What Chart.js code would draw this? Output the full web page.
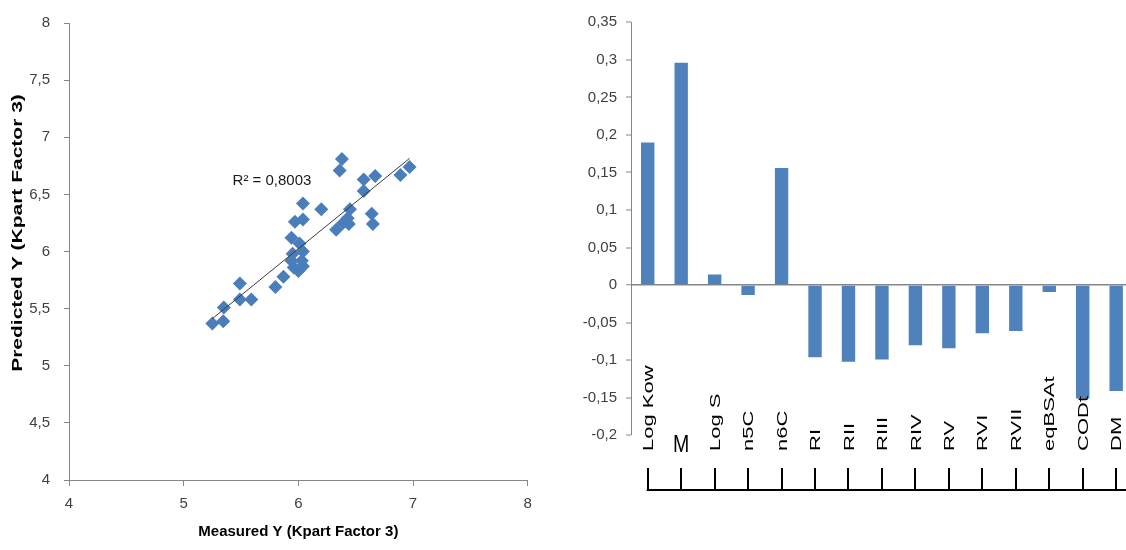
<!DOCTYPE html>
<html>
<head>
<meta charset="utf-8">
<script src="https://cdn.jsdelivr.net/npm/chart.js@4/dist/chart.umd.min.js"></script>
<style>
  html, body { margin: 0; padding: 0; background: #fff; width: 1126px; height: 550px; overflow: hidden; }
  #scatter { position: absolute; left: 0; top: 0; }
  #bars { position: absolute; left: 560px; top: 0; }
</style>
</head>
<body>
<canvas id="scatter" width="560" height="550"></canvas>
<canvas id="bars" width="600" height="550"></canvas>
<script>
// ---- Left panel: measured vs predicted (Kpart, factor 3) ----
const measuredY  = [5.25, 5.345, 5.35, 5.49, 5.49, 5.59, 5.80, 5.87, 5.94, 5.95, 5.94, 5.97,
                    6.01, 6.03, 6.00, 5.96, 6.04, 6.04, 6.04, 6.04, 6.20, 6.33, 6.36, 6.38,
                    6.39, 6.44, 6.45, 6.43, 6.57, 6.57, 6.64, 6.65, 6.67, 6.89, 6.97];
const predictedY = [5.37, 5.39, 5.51, 5.72, 5.58, 5.58, 5.69, 5.78, 5.92, 5.98, 6.12, 6.26,
                    6.07, 5.92, 5.83, 5.86, 6.00, 5.87, 6.28, 6.42, 6.37, 6.19, 6.71, 6.81,
                    6.25, 6.24, 6.37, 6.29, 6.53, 6.63, 6.33, 6.24, 6.66, 6.67, 6.74];
const measuredTicks  = [4, 5, 6, 7, 8];
const predictedTicks = [4, 4.5, 5, 5.5, 6, 6.5, 7, 7.5, 8];
const r2Label = 'R² = 0,8003';

// ---- Right panel: descriptor coefficients ----
const descriptors  = ['Log Kow', 'M', 'Log S', 'n5C', 'n6C', 'RI', 'RII', 'RIII', 'RIV', 'RV',
                      'RVI', 'RVII', 'eqBSAt', 'CODt', 'DM'];
const coefficients = [0.190, 0.296, 0.014, -0.013, 0.156, -0.096, -0.102, -0.099, -0.080, -0.084,
                      -0.064, -0.061, -0.009, -0.151, -0.141];
const coefTicks    = [-0.2, -0.15, -0.1, -0.05, 0, 0.05, 0.1, 0.15, 0.2, 0.25, 0.3, 0.35];
const uprightLabels = ['M'];

const AXIS_GREY = '#868686';
const TICK_TEXT = '#404040';
const BAR_BLUE  = '#4F81BD';

const comma = v => String(v).replace('.', ',');
const setTicks = values => scale => { scale.ticks = values.map(v => ({ value: v })); };

// least-squares line through the scatter
function fitLine(xs, ys) {
  const n = xs.length;
  const mx = xs.reduce((a, b) => a + b, 0) / n;
  const my = ys.reduce((a, b) => a + b, 0) / n;
  let sxx = 0, sxy = 0;
  for (let i = 0; i < n; i++) { sxx += (xs[i] - mx) ** 2; sxy += (xs[i] - mx) * (ys[i] - my); }
  const slope = sxy / sxx;
  return x => my + slope * (x - mx);
}
const trend = fitLine(measuredY, predictedY);
const xLo = Math.min(...measuredY), xHi = Math.max(...measuredY);

// squeezed text helper (narrow glyph thickness)
function squeezedText(ctx, text, x, y, font, rotate, sx, sy, align, baseline) {
  ctx.save();
  ctx.translate(x, y);
  if (rotate) ctx.rotate(-Math.PI / 2);
  ctx.scale(sx, sy);
  ctx.font = font;
  ctx.textAlign = align;
  ctx.textBaseline = baseline;
  ctx.fillText(text, 0, 0);
  ctx.restore();
}

const scatterText = {
  id: 'scatterText',
  afterDraw(chart) {
    const { ctx, scales: { x, y } } = chart;
    ctx.save();
    ctx.fillStyle = '#000';
    squeezedText(ctx, 'Predicted Y (Kpart Factor 3)', 18, 233,
                 'bold 21px "Liberation Sans"', true, 1, 0.67, 'center', 'middle');
    ctx.fillStyle = '#1a1a1a';
    squeezedText(ctx, r2Label, x.getPixelForValue(5.77), y.getPixelForValue(6.62),
                 '15px "Liberation Sans"', false, 1, 1, 'center', 'middle');
    ctx.restore();
  }
};

new Chart(document.getElementById('scatter'), {
  type: 'scatter',
  data: {
    datasets: [
      {
        type: 'line',
        order: 0,
        data: [{ x: xLo, y: trend(xLo) }, { x: xHi, y: trend(xHi) }],
        borderColor: '#3a3a3a',
        borderWidth: 1,
        pointRadius: 0,
        fill: false
      },
      {
        order: 1,
        data: measuredY.map((m, i) => ({ x: m, y: predictedY[i] })),
        pointStyle: 'rectRot',
        pointRadius: 7,
        pointHoverRadius: 7,
        backgroundColor: '#4A7EBB',
        borderWidth: 0
      }
    ]
  },
  options: {
    responsive: false,
    animation: false,
    devicePixelRatio: 1,
    layout: { padding: { left: 0, top: 22.7, right: 32.3, bottom: 0 } },
    plugins: { legend: { display: false }, tooltip: { enabled: false } },
    scales: {
      x: {
        type: 'linear', min: 4, max: 8,
        afterBuildTicks: setTicks(measuredTicks),
        afterFit: s => { s.height = 70; },
        grid: { drawOnChartArea: false, tickLength: 6, color: AXIS_GREY },
        border: { color: AXIS_GREY },
        ticks: { color: TICK_TEXT, font: { family: '"Liberation Sans"', size: 15 }, padding: 9,
                 callback: v => comma(v) },
        title: { display: true, text: 'Measured Y (Kpart Factor 3)', color: '#000',
                 font: { family: '"Liberation Sans"', size: 15, weight: 'bold' },
                 padding: { top: 0, bottom: 9 } }
      },
      y: {
        type: 'linear', min: 4, max: 8,
        afterBuildTicks: setTicks(predictedTicks),
        afterFit: s => { s.width = 69; },
        grid: { drawOnChartArea: false, tickLength: 5, color: AXIS_GREY },
        border: { color: AXIS_GREY },
        ticks: { color: TICK_TEXT, font: { family: '"Liberation Sans"', size: 15 }, padding: 14,
                 callback: v => comma(v) }
      }
    }
  },
  plugins: [scatterText]
});

// category labels below the plot with a bracket ruler
const descriptorAxis = {
  id: 'descriptorAxis',
  afterDraw(chart) {
    const { ctx, scales: { x } } = chart;
    const labelBase = 451, rulerY = 490, rulerTop = 468;
    ctx.save();
    ctx.fillStyle = '#000';
    descriptors.forEach((name, i) => {
      const px = x.getPixelForValue(i);
      if (uprightLabels.includes(name)) {
        squeezedText(ctx, name, px, labelBase + 1, '23px "Liberation Sans"', false, 0.85, 1, 'center', 'alphabetic');
      } else {
        squeezedText(ctx, name, px + 1, labelBase, '22px "Liberation Sans"', true, 1, 0.68, 'left', 'middle');
      }
    });
    ctx.strokeStyle = '#000';
    ctx.lineWidth = 2;
    ctx.beginPath();
    const first = x.getPixelForValue(0);
    ctx.moveTo(first - 1, rulerY);
    ctx.lineTo(chart.width, rulerY);
    descriptors.forEach((_, i) => {
      const px = Math.round(x.getPixelForValue(i));
      ctx.moveTo(px, rulerTop);
      ctx.lineTo(px, rulerY);
    });
    ctx.stroke();
    ctx.restore();
  }
};

new Chart(document.getElementById('bars'), {
  type: 'bar',
  data: {
    labels: descriptors,
    datasets: [{
      data: coefficients,
      backgroundColor: BAR_BLUE,
      borderWidth: 0,
      categoryPercentage: 1,
      barPercentage: 0.4
    }]
  },
  options: {
    responsive: false,
    animation: false,
    devicePixelRatio: 1,
    layout: { padding: { left: 0, top: 22.3, right: 27.1, bottom: 114.7 } },
    plugins: { legend: { display: false }, tooltip: { enabled: false } },
    scales: {
      x: { display: false },
      y: {
        min: -0.2, max: 0.35,
        afterBuildTicks: setTicks(coefTicks),
        afterFit: s => { s.width = 71; },
        grid: {
          drawOnChartArea: true,
          color: c => (c.tick && c.tick.value === 0 ? AXIS_GREY : 'rgba(0,0,0,0)'),
          lineWidth: c => (c.tick && c.tick.value === 0 ? 1.5 : 0),
          tickColor: AXIS_GREY,
          tickWidth: 1,
          tickLength: 5
        },
        border: { color: AXIS_GREY },
        ticks: { color: TICK_TEXT, font: { family: '"Liberation Sans"', size: 15 }, padding: 9,
                 callback: v => comma(v) }
      }
    }
  },
  plugins: [descriptorAxis]
});
</script>
</body>
</html>
